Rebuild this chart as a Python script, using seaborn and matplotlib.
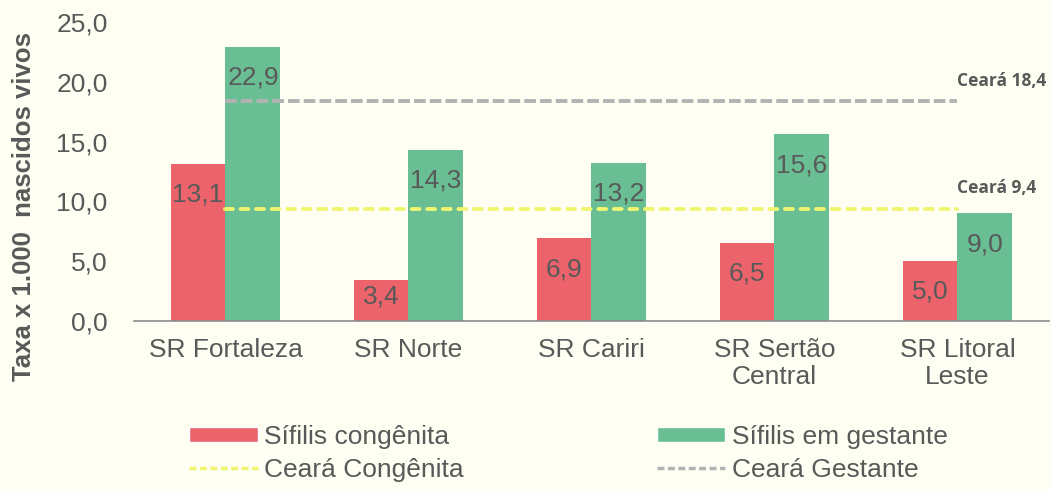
import pandas as pd
import matplotlib.pyplot as plt
import seaborn as sns
from matplotlib.patches import Patch
from matplotlib.lines import Line2D

regioes = ["SR Fortaleza", "SR Norte", "SR Cariri", "SR Sertão\nCentral", "SR Litoral\nLeste"]
congenita = [13.1, 3.4, 6.9, 6.5, 5.0]
gestante = [22.9, 14.3, 13.2, 15.6, 9.0]
ceara_congenita = 9.4
ceara_gestante = 18.4

BG = "#FEFEF2"
RED = "#EC636C"
GREEN = "#69BE94"
YELLOW = "#F0F570"
GRAY_LINE = "#B3B3B3"
TXT = "#595959"

df = pd.DataFrame({
    "regiao": regioes * 2,
    "taxa": congenita + gestante,
    "serie": ["Sífilis congênita"] * 5 + ["Sífilis em gestante"] * 5,
})

sns.set_style("white")
plt.rcParams["font.family"] = ["Liberation Sans", "DejaVu Sans"]

fig = plt.figure(figsize=(10.51, 4.9), dpi=100, facecolor=BG)
ax = fig.add_axes([0.1275, 0.345, 0.8705, 0.61])
ax.set_facecolor(BG)

sns.barplot(data=df, x="regiao", y="taxa", hue="serie",
            palette=[RED, GREEN], width=0.6, saturation=1,
            edgecolor="none", legend=False, ax=ax)

# rótulos dentro da barra, perto do topo (ou no pé, se a barra for curta)
for cont in ax.containers:
    for bar in cont:
        h = bar.get_height()
        ax.text(bar.get_x() + bar.get_width() / 2, max(h - 3.15, 1.5),
                f"{h:.1f}".replace(".", ","),
                ha="center", va="baseline", fontsize=19, color=TXT)

# linhas de referência do estado
ax.plot([0, 4], [ceara_gestante] * 2, ls=(0, (3, 1.05)), color=GRAY_LINE, lw=2.8)
ax.plot([0, 4], [ceara_congenita] * 2, ls=(0, (2, 2)), color=YELLOW, lw=2.8,
        dash_capstyle="round")
ax.text(4.0, ceara_gestante + 0.95, "Ceará 18,4", fontsize=12.5, fontweight="bold",
        color=TXT, family=["Open Sans", "DejaVu Sans"], va="bottom")
ax.text(4.0, ceara_congenita + 0.95, "Ceará 9,4", fontsize=12.5, fontweight="bold",
        color=TXT, family=["Open Sans", "DejaVu Sans"], va="bottom")

ax.set_xlim(-0.5, 4.5)
ax.set_ylim(0, 25)
ax.set_yticks([0, 5, 10, 15, 20, 25])
ax.set_yticklabels([f"{v:.1f}".replace(".", ",") for v in [0, 5, 10, 15, 20, 25]])
ax.tick_params(axis="y", length=0, labelsize=19, labelcolor=TXT, pad=19)
ax.tick_params(axis="x", which="major", length=0, labelsize=19, labelcolor=TXT, pad=12)
ax.set_xticks([i - 0.5 for i in range(6)], minor=True)
ax.tick_params(axis="x", which="minor", length=6, color="#8C8C8C", width=1.2, direction="out")

for s in ["top", "right", "left"]:
    ax.spines[s].set_visible(False)
ax.spines["bottom"].set_color("#8C8C8C")
ax.spines["bottom"].set_linewidth(1.2)

ax.set_xlabel("")
ax.set_ylabel("Taxa x 1.000  nascidos vivos", fontsize=18.5, fontweight="bold", color=TXT,
              va="center", ha="center")
ax.yaxis.set_label_coords(-0.120, 0.382)

handles = [
    Patch(facecolor=RED, label="Sífilis congênita"),
    Line2D([], [], color=YELLOW, ls=(0, (2, 1)), lw=2.5, label="Ceará Congênita"),
    Patch(facecolor=GREEN, label="Sífilis em gestante"),
    Line2D([], [], color=GRAY_LINE, ls=(0, (2, 1)), lw=2.5, label="Ceará Gestante"),
]
fig.legend(handles=handles, ncol=2, loc="upper left", bbox_to_anchor=(0.18, 0.133),
           frameon=False, fontsize=19, labelcolor=TXT, handlelength=2.6, handleheight=0.55,
           handletextpad=0.25, columnspacing=7.3, labelspacing=0.35, borderaxespad=0,
           borderpad=0)

fig.savefig("out.png", dpi=100, facecolor=BG)
